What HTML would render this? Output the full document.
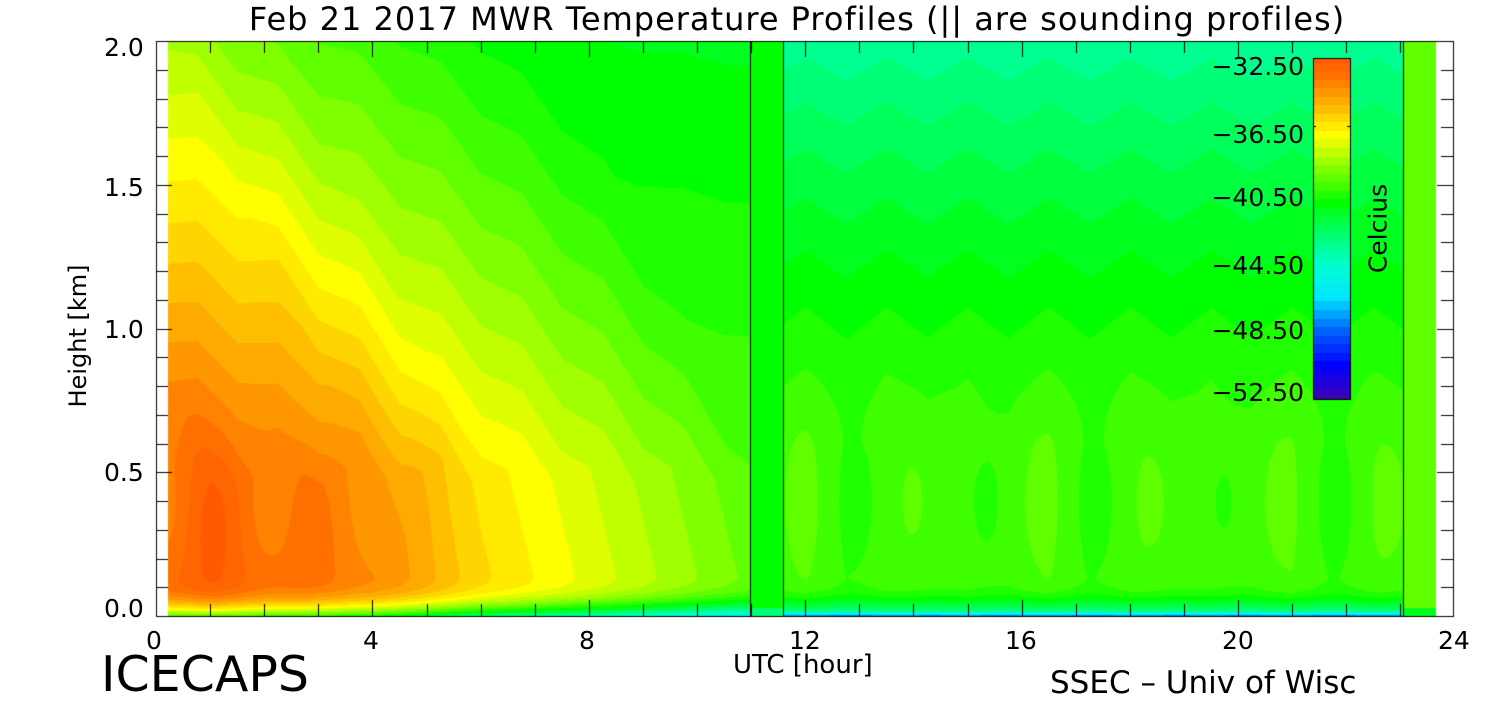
<!DOCTYPE html>
<html><head><meta charset="utf-8"><style>
html,body{margin:0;padding:0;background:#fff;width:1500px;height:700px;overflow:hidden}
.t{position:absolute;font-family:"DejaVu Sans","Liberation Sans",sans-serif;color:#000;white-space:nowrap;line-height:1}
</style></head><body>
<canvas id="c" width="1500" height="700" style="position:absolute;left:0;top:0"></canvas>
<div class="t" style="left:47px;width:1500px;text-align:center;top:3px;font-size:32px;letter-spacing:1px">Feb 21 2017 MWR Temperature Profiles (|| are sounding profiles)</div>
<div class="t" style="left:104px;top:35px;font-size:25px">2.0</div>
<div class="t" style="left:104px;top:175px;font-size:25px">1.5</div>
<div class="t" style="left:104px;top:317px;font-size:25px">1.0</div>
<div class="t" style="left:104px;top:460px;font-size:25px">0.5</div>
<div class="t" style="left:104px;top:596px;font-size:25px">0.0</div>
<div class="t" style="left:146px;top:628px;font-size:25px">0</div>
<div class="t" style="left:363px;top:628px;font-size:25px">4</div>
<div class="t" style="left:579px;top:628px;font-size:25px">8</div>
<div class="t" style="left:789px;top:628px;font-size:25px">12</div>
<div class="t" style="left:1005px;top:628px;font-size:25px">16</div>
<div class="t" style="left:1222px;top:628px;font-size:25px">20</div>
<div class="t" style="left:1438px;top:628px;font-size:25px">24</div>
<div class="t" style="left:733px;top:652px;font-size:26px">UTC [hour]</div>
<div class="t" style="left:101px;top:650px;font-size:49px">ICECAPS</div>
<div class="t" style="left:1050px;top:668px;font-size:31px">SSEC – Univ of Wisc</div>
<div class="t" style="left:-2px;top:324px;font-size:24px;transform:rotate(-90deg);width:160px;text-align:center">Height [km]</div>
<div class="t" style="left:1298px;top:216px;font-size:25px;transform:rotate(-90deg);width:160px;text-align:center">Celcius</div>
<div class="t" style="left:1150px;top:54px;width:154px;text-align:right;font-size:25px">−32.50</div>
<div class="t" style="left:1150px;top:122px;width:154px;text-align:right;font-size:25px">−36.50</div>
<div class="t" style="left:1150px;top:185px;width:154px;text-align:right;font-size:25px">−40.50</div>
<div class="t" style="left:1150px;top:253px;width:154px;text-align:right;font-size:25px">−44.50</div>
<div class="t" style="left:1150px;top:318px;width:154px;text-align:right;font-size:25px">−48.50</div>
<div class="t" style="left:1150px;top:380px;width:154px;text-align:right;font-size:25px">−52.50</div>
<script>
var c=document.getElementById('c').getContext('2d');
var stops=[[-52.5,[64,0,176]],[-50.5,[0,0,255]],[-48.5,[0,96,255]],[-46.5,[0,230,255]],[-44.5,[0,255,200]],[-42.5,[0,255,90]],[-41,[0,255,0]],[-39,[128,255,0]],[-37,[255,255,0]],[-35,[255,170,0]],[-33.5,[255,112,0]],[-32.5,[255,90,0]]];
function cm(T){T=Math.round(T*2)/2;if(T<=stops[0][0])return stops[0][1];
for(var i=1;i<stops.length;i++){if(T<=stops[i][0]){var a=stops[i-1],b=stops[i],f=(T-a[0])/(b[0]-a[0]);return [0,1,2].map(k=>Math.round(a[1][k]+f*(b[1][k]-a[1][k])));}}return stops[stops.length-1][1];}
var X0=156,PX=54.1,Y0=616,PY=287.5;
var AK=[[0,6.8],[1,7.0],[4,5.8],[6,3.8],[8,2.5],[11,0.5],[20,0]];
function Af(h){if(h<=0)return AK[0][1];for(var i=1;i<AK.length;i++){if(h<=AK[i][0]){var a=AK[i-1],b=AK[i];return a[1]+(h-a[0])/(b[0]-a[0])*(b[1]-a[1]);}}return 0;}
function temp(h,z){
 var T,zig=Math.abs(((h/0.75)%2)-1);
 if(h<11){
  var zz=z+0.1*(zig-0.5)*Math.min(1,z/0.3);
  var up=Math.max(0,zz-0.5);
  var A=Af(h+2.5*up)*(1-0.3*up);
  var blob=0.7*Math.cos(2*Math.PI*(h-1.1)/1.9)*Math.exp(-Math.pow((z-0.35)/0.25,2))*Math.max(0,1-h/6);
  T=-39.8-0.85*z+A+blob;
 }else{
  var up2=Math.max(0,z-0.6);
  T=-40-2.3*Math.pow(up2,1.3)+0.25*(zig-0.5)+0.35*Math.cos(2*Math.PI*(h-18.5)/2.2)*Math.exp(-Math.pow((z-0.4)/0.3,2));
 }
 if(z<0.15){var s=1-z/0.15;T-=(h<11?7:5)*s*s*s;}
 if(z<0.015&&h>11)T-=4*(1-z/0.015);
 return T;
}
var img=c.createImageData(1500,700);
for(var y=41;y<616;y++){var z=(Y0-y)/PY;
 for(var x=168;x<1436;x++){var h=(x-X0)/PX,T;
  if(h>=10.98&&h<11.6)T=-40.8+(z<0.03?-2:0);
  else if(h>=23.05)T=-39.3-0.2*z+(z<0.03?-2:0);
  else T=temp(h,z);
  var col=cm(T),i=(y*1500+x)*4;img.data[i]=col[0];img.data[i+1]=col[1];img.data[i+2]=col[2];img.data[i+3]=255;}}
c.putImageData(img,0,0);
for(var y=58;y<399;y++){var T=-32.5-(y-58)/341*20;var col=cm(T);c.fillStyle='rgb('+col+')';c.fillRect(1313,y,37,1);}
c.strokeStyle='#000';c.lineWidth=1;
c.strokeRect(1313.5,58.5,37,341);
c.beginPath();c.moveTo(1313,126.5);c.lineTo(1316,126.5);c.moveTo(1347,126.5);c.lineTo(1350,126.5);c.stroke();
c.strokeRect(156.5,41.5,1297,575);
c.beginPath();
[750.5,783.5,1403.5].forEach(function(x){c.moveTo(x,41);c.lineTo(x,616);});
for(var k=1;k<24;k++){var x=Math.round(X0+k*PX)+0.5,L=(k%4==0)?16:12;c.moveTo(x,616);c.lineTo(x,616-L);c.moveTo(x,41);c.lineTo(x,41+L);}
for(var k=1;k<20;k++){var y=Math.round(Y0-k*PY/10)+0.5,L=(k%5==0)?16:12;c.moveTo(156,y);c.lineTo(156+L,y);c.moveTo(1453,y);c.lineTo(1453-L,y);}
c.stroke();
</script>
</body></html>
